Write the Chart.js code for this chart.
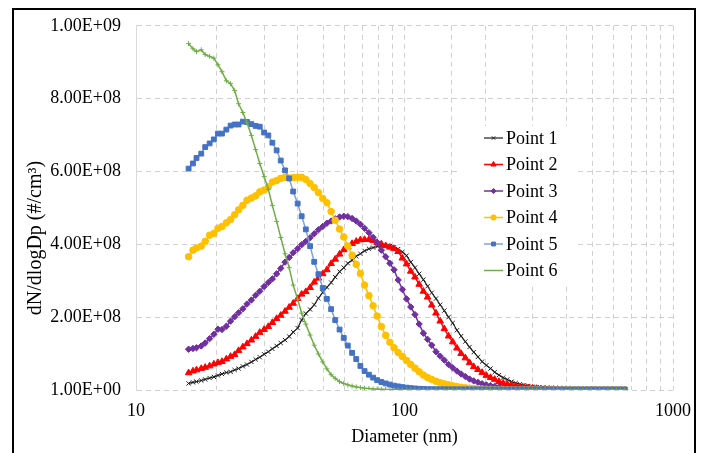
<!DOCTYPE html>
<html lang="en">
<head>
    <meta charset="UTF-8">
    <title>dN/dlogDp vs Diameter</title>
    <style>
        body { margin: 0; background: #fff; }
    </style>
</head>
<body>
    <canvas id="sizeChart" width="701" height="453"></canvas>

    <script src="https://cdn.jsdelivr.net/npm/chart.js"></script>
    <script>
        // Diameter bins (nm)
        const diameters = [
            15.7, 16.3, 16.8, 17.5, 18.1, 18.8, 19.5, 20.2, 20.9, 21.7,
            22.5, 23.3, 24.1, 25.0, 25.9, 26.9, 27.9, 28.9, 30.0, 31.1,
            32.2, 33.4, 34.6, 35.9, 37.2, 38.5, 40.0, 41.4, 42.9, 44.5,
            46.1, 47.8, 49.6, 51.4, 53.3, 55.2, 57.3, 59.4, 61.5, 63.8,
            66.1, 68.5, 71.0, 73.7, 76.4, 79.1, 82.0, 85.1, 88.2, 91.4,
            94.7, 98.2, 101.8, 105.5, 109.4, 113.4, 117.6, 121.9, 126.3, 131.0,
            135.8, 140.7, 145.9, 151.2, 156.8, 162.5, 168.5, 174.7, 181.1, 187.7,
            194.6, 201.7, 209.1, 216.7, 224.7, 232.9, 241.4, 250.3, 259.5, 269.0,
            278.8, 289.0, 299.6, 310.6, 322.0, 333.8, 346.0, 358.7, 371.8, 385.4,
            399.5, 414.2, 429.4, 445.1, 461.4, 478.3, 495.8, 514.0, 532.8, 552.3,
            572.5, 593.5, 615.3, 637.8, 661.2
        ];

        // dN/dlogDp values, in millions per cm3
        const point1 = [
            18, 21, 23, 26, 29, 33, 36, 40, 44, 48,
            50, 55, 59, 65, 70, 77, 84, 90, 98, 105,
            113, 121, 129, 137, 147, 159, 170, 192, 210, 221,
            234, 252, 268, 282, 295, 310, 325, 336, 348, 356,
            367, 374, 382, 388, 391, 394, 396, 396, 395, 392,
            387, 379, 369, 351, 336, 319, 303, 285, 267, 251,
            234, 218, 200, 184, 164, 148, 133, 118, 104, 91,
            78, 68, 59, 49, 41, 34, 29, 23, 19, 16,
            13, 11, 9, 7.5, 6, 5, 4, 3.2, 2.6, 2.1,
            1.7, 1.4, 1.1, 0.9, 0.8, 0.6, 0.5, 0.4, 0.4, 0.3,
            0.3, 0.2, 0.2, 0.2, 0.1
        ];
        const point2 = [
            47, 52, 55, 59, 62, 66, 71, 75, 78, 85,
            92, 97, 108, 118, 127, 137, 147, 158, 166, 174,
            185, 196, 205, 216, 227, 238, 251, 263, 270, 281,
            296, 307, 319, 330, 347, 359, 373, 385, 393, 402,
            408, 412, 413, 413, 410, 405, 401, 396, 392, 388,
            380, 362, 346, 326, 310, 290, 271, 255, 233, 211,
            189, 168, 148, 132, 115, 100, 88, 75, 64, 56,
            48, 40, 34, 29, 23, 19, 16, 13, 11, 9,
            7.5, 6, 5, 4, 3.2, 2.6, 2.1, 1.7, 1.4, 1.1,
            0.9, 0.8, 0.6, 0.5, 0.4, 0.4, 0.3, 0.3, 0.2, 0.2,
            0.2, 0.1, 0.1, 0.1, 0.1
        ];
        const point3 = [
            112, 114, 116, 121, 129, 141, 153, 167, 166, 175,
            189, 201, 212, 223, 236, 247, 260, 271, 284, 295,
            305, 319, 334, 351, 364, 377, 388, 399, 408, 418,
            429, 440, 449, 458, 464, 470, 475, 477, 476, 471,
            464, 455, 444, 432, 419, 405, 384, 366, 348, 330,
            302, 276, 250, 228, 207, 181, 156, 139, 123, 105,
            93, 82, 70, 61, 52, 44, 37, 30, 25, 21,
            17, 14, 12, 10, 8, 6.5, 5, 4, 3.2, 2.5,
            2, 1.6, 1.2, 1.0, 0.8, 0.6, 0.5, 0.4, 0.3, 0.3,
            0.2, 0.2, 0.2, 0.1, 0.1, 0.1, 0.1, 0.1, 0.1, 0.1,
            0.1, 0.1, 0.1, 0.1, 0.1
        ];
        const point4 = [
            366, 384, 390, 395, 408, 425, 430, 444, 449, 459,
            468, 481, 495, 507, 521, 527, 533, 544, 549, 558,
            571, 575, 581, 584, 582, 583, 584, 584, 578, 567,
            556, 542, 526, 514, 490, 466, 442, 420, 395, 370,
            345, 320, 288, 259, 231, 203, 174, 150, 131, 116,
            103, 92, 81, 70, 60, 50, 41, 34, 29, 24,
            20, 17, 14, 11.5, 9.5, 7.5, 6, 5, 4, 3.2,
            2.6, 2.1, 1.7, 1.4, 1.1, 0.9, 0.7, 0.6, 0.5, 0.4,
            0.3, 0.3, 0.3, 0.2, 0.2, 0.2, 0.2, 0.1, 0.1, 0.1,
            0.1, 0.1, 0.1, 0.1, 0.1, 0.1, 0.1, 0.1, 0.1, 0.1,
            0.1, 0.1, 0.1, 0.1, 0.1
        ];
        const point5 = [
            608, 622, 637, 649, 667, 677, 688, 704, 704, 715,
            726, 729, 729, 737, 736, 730, 725, 723, 707, 699,
            679, 658, 630, 603, 581, 545, 512, 477, 441, 395,
            352, 318, 280, 250, 222, 192, 166, 143, 122, 102,
            85, 66, 52, 42, 34, 27, 22, 18, 15, 12,
            10, 8, 6.5, 5.2, 4.2, 3.4, 2.8, 2.4, 2.2, 2.0,
            2.0, 1.9, 1.9, 1.9, 1.8, 1.8, 1.8, 1.8, 1.8, 1.8,
            1.8, 1.7, 1.7, 1.7, 1.7, 1.7, 1.7, 1.7, 1.7, 1.7,
            1.6, 1.6, 1.6, 1.6, 1.6, 1.6, 1.6, 1.6, 1.6, 1.6,
            1.5, 1.5, 1.5, 1.5, 1.5, 1.5, 1.5, 1.5, 1.5, 1.5,
            1.5, 1.5, 1.5, 1.5, 1.5
        ];
        const point6 = [
            951, 937, 929, 934, 921, 916, 911, 893, 874, 849,
            841, 822, 786, 762, 734, 699, 660, 622, 586, 551,
            507, 463, 419, 374, 336, 288, 249, 211, 181, 151,
            123, 99, 77, 58, 42, 32, 23, 18, 14, 11,
            8.5, 6.5, 5, 4, 3, 2.4, 1.9, 1.5, 1.2, 1.0,
            0.8, 0.7, 0.6, 0.5, 0.4, 0.3, 0.3, 0.2, 0.2, 0.2,
            0.1, 0.1, 0.1, 0.1, 0.1, 0.1, 0.1, 0.1, 0.1, 0.1,
            0.1, 0.1, 0.1, 0.1, 0.1, 0.1, 0.1, 0.1, 0.1, 0.1,
            0.1, 0.1, 0.1, 0.1, 0.1, 0.1, 0.1, 0.1, 0.1, 0.1,
            0.1, 0.1, 0.1, 0.1, 0.1, 0.1, 0.1, 0.1, 0.1, 0.1,
            0.1, 0.1, 0.1, 0.1, 0.1
        ];

        const seriesNames = ['Point 1', 'Point 2', 'Point 3', 'Point 4', 'Point 5', 'Point 6'];
        const xTickLabels = [10, 100, 1000];
        const yTitle = 'dN/dlogDp (#/cm³)';

        const serif = '"Liberation Serif", "Times New Roman", serif';
        const gridDash = [5, 4];

        function toPoints(values) {
            return values.map((v, i) => ({ x: diameters[i], y: v * 1e6 }));
        }

        // Excel style scientific labels, e.g. 2.00E+08
        function sci(v) {
            if (v === 0) return '1.00E+00';
            const parts = v.toExponential(2).split('e');
            const n = parseInt(parts[1], 10);
            return parts[0] + 'E' + (n < 0 ? '-' : '+') + String(Math.abs(n)).padStart(2, '0');
        }

        const styles = [
            { line: '#1f1f1f', fill: '#1f1f1f', marker: 'crossRot', r: 3, lw: 1.2, mw: 1 },
            { line: '#ff0000', fill: '#ff0000', marker: 'triangle', r: 3.8, lw: 1.5, mw: 1 },
            { line: '#7030a0', fill: '#7030a0', marker: 'rectRot', r: 3.2, lw: 1.5, mw: 1 },
            { line: '#ffc000', fill: '#ffc000', marker: 'circle', r: 3.3, lw: 1.5, mw: 1 },
            { line: '#7fa2da', fill: '#4472c4', marker: 'rect', r: 3.4, lw: 1.5, mw: 1 },
            { line: '#70ad47', fill: '#70ad47', marker: 'cross', r: 2.5, lw: 1.5, mw: 1 }
        ];

        const seriesValues = [point1, point2, point3, point4, point5, point6];

        const datasets = seriesValues.map((vals, i) => ({
            label: seriesNames[i],
            data: toPoints(vals),
            borderColor: styles[i].line,
            borderWidth: styles[i].lw,
            backgroundColor: styles[i].fill,
            pointStyle: styles[i].marker,
            pointRadius: styles[i].r,
            pointBackgroundColor: styles[i].fill,
            pointBorderColor: styles[i].fill,
            pointBorderWidth: styles[i].mw,
            tension: 0,
            order: 5 - i
        }));

        // legend box inside the plot, y title and the outer frame
        const extras = {
            id: 'extras',
            afterDraw(chart) {
                const ctx = chart.ctx;
                ctx.save();
                ctx.fillStyle = '#fff';
                ctx.fillRect(460, 126, 118, 157);
                chart.data.datasets.forEach((ds, i) => {
                    const y = 138 + i * 26.5;
                    ctx.strokeStyle = ds.borderColor;
                    ctx.lineWidth = ds.borderWidth;
                    ctx.beginPath();
                    ctx.moveTo(484, y);
                    ctx.lineTo(503, y);
                    ctx.stroke();
                    if (i < 5) {
                        ctx.fillStyle = ds.pointBackgroundColor;
                        ctx.strokeStyle = ds.pointBorderColor;
                        ctx.lineWidth = ds.pointBorderWidth;
                        Chart.helpers.drawPoint(ctx, {
                            pointStyle: ds.pointStyle,
                            radius: ds.pointRadius * 0.8,
                            borderWidth: ds.pointBorderWidth,
                            rotation: 0
                        }, 493.5, y);
                    }
                    ctx.fillStyle = '#000';
                    ctx.font = '18px ' + serif;
                    ctx.textBaseline = 'middle';
                    ctx.textAlign = 'left';
                    ctx.fillText(ds.label, 506, y + 1);
                });

                ctx.translate(36, 238);
                ctx.rotate(-Math.PI / 2);
                ctx.font = '20px ' + serif;
                ctx.textAlign = 'center';
                ctx.textBaseline = 'middle';
                ctx.fillStyle = '#000';
                ctx.fillText(yTitle, 0, 0);
                ctx.setTransform(1, 0, 0, 1, 0, 0);

                ctx.strokeStyle = '#000';
                ctx.lineWidth = 2;
                ctx.strokeRect(13, 9, 682, 470);
                ctx.restore();
            }
        };

        new Chart(document.getElementById('sizeChart'), {
            type: 'line',
            data: { datasets: datasets },
            options: {
                responsive: false,
                animation: false,
                layout: { padding: { top: 14, right: 21, bottom: 0, left: 0 } },
                plugins: {
                    legend: { display: false },
                    tooltip: { enabled: false }
                },
                scales: {
                    x: {
                        type: 'logarithmic',
                        min: 10,
                        max: 1000,
                        grid: { color: '#d0d0d0', lineWidth: 1, drawTicks: false, borderDash: gridDash },
                        border: { display: false, dash: gridDash },
                        ticks: {
                            autoSkip: false,
                            maxRotation: 0,
                            padding: 10,
                            color: '#000',
                            font: { family: serif, size: 18 },
                            callback: (v) => xTickLabels.includes(v) ? String(v) : ''
                        },
                        title: {
                            display: true,
                            text: 'Diameter (nm)',
                            color: '#000',
                            font: { family: serif, size: 18 },
                            padding: { top: 0, bottom: 5 }
                        },
                        afterFit: (scale) => { scale.height = 63; }
                    },
                    y: {
                        min: 0,
                        max: 1e9,
                        grid: { color: '#d0d0d0', lineWidth: 1, drawTicks: false, borderDash: gridDash },
                        border: { display: true, color: '#d9d9d9', width: 1, dash: gridDash },
                        ticks: {
                            stepSize: 2e8,
                            padding: 15,
                            color: '#000',
                            font: { family: serif, size: 18 },
                            callback: (v) => sci(v)
                        },
                        afterFit: (scale) => { scale.width = 136; }
                    }
                }
            },
            plugins: [extras]
        });
    </script>
</body>
</html>
